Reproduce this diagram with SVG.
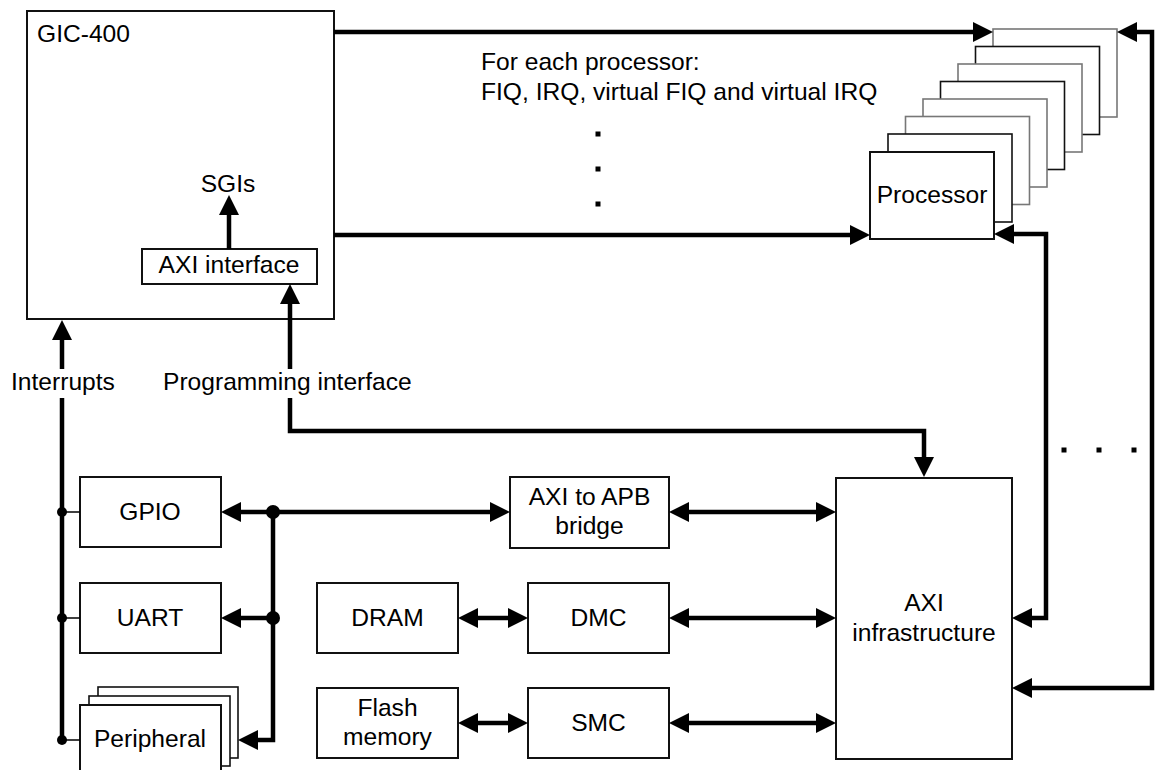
<svg xmlns="http://www.w3.org/2000/svg" width="1172" height="770" viewBox="0 0 1172 770">
<style>
text{font-family:"Liberation Sans",Arial,sans-serif;font-size:24.6px;fill:#000}
.c{text-anchor:middle}
.box{fill:#fff;stroke:#111;stroke-width:2}
.g{fill:#fff;stroke:#777;stroke-width:1.6}
.k{fill:#fff;stroke:#111;stroke-width:1.6}
.w{fill:none;stroke:#000;stroke-width:4.5}
.thin{fill:none;stroke:#000;stroke-width:1.6}
</style>
<defs>
<marker id="ah" viewBox="0 0 20 20" refX="10" refY="10" markerWidth="20" markerHeight="20" markerUnits="userSpaceOnUse" orient="auto-start-reverse">
<path d="M0,0 L20,10 L0,20 z" fill="#000"/>
</marker>
</defs>
<rect width="1172" height="770" fill="#fff"/>

<g id="gic400">
<rect class="box" x="27" y="11" width="307" height="308"/>
<text x="37" y="42">GIC-400</text>
</g>
<g id="axi-interface">
<rect class="box" x="142" y="249" width="175" height="35"/>
<text class="c" x="229" y="273">AXI interface</text>
</g>
<g id="sgis">
<text class="c" x="228" y="192">SGIs</text>
</g>

<g id="processors">
<rect class="g" x="993" y="29" width="124" height="88"/>
<rect class="k" x="975.5" y="46.5" width="124" height="88"/>
<rect class="g" x="958" y="64" width="124" height="88"/>
<rect class="k" x="940.5" y="81.5" width="124" height="88"/>
<rect class="g" x="923" y="99" width="124" height="88"/>
<rect class="g" x="905.5" y="116.5" width="124" height="88"/>
<rect class="k" x="888" y="134" width="124" height="88"/>
<rect class="box" x="870" y="152" width="124" height="87"/>
<text class="c" x="932" y="203">Processor</text>
</g>

<g id="labels">
<text x="481" y="70">For each processor:</text>
<text x="481" y="100">FIQ, IRQ, virtual FIQ and virtual IRQ</text>
<rect x="595.5" y="131.5" width="5" height="5" fill="#000"/>
<rect x="595.5" y="166.5" width="5" height="5" fill="#000"/>
<rect x="595.5" y="201.5" width="5" height="5" fill="#000"/>
<rect x="1061.5" y="447.5" width="5" height="5" fill="#000"/>
<rect x="1096.5" y="447.5" width="5" height="5" fill="#000"/>
<rect x="1131.5" y="447.5" width="5" height="5" fill="#000"/>
</g>

<g id="gpio">
<rect class="box" x="80" y="477" width="141" height="70"/>
<text class="c" x="150" y="520">GPIO</text>
</g>
<g id="uart">
<rect class="box" x="80" y="583" width="141" height="70"/>
<text class="c" x="150" y="626">UART</text>
</g>
<g id="peripheral">
<rect class="k" x="98" y="687" width="140" height="71"/>
<rect class="k" x="89" y="696" width="141" height="70"/>
<rect class="box" x="80" y="705" width="141" height="75"/>
<text class="c" x="150" y="747">Peripheral</text>
</g>
<g id="bridge">
<rect class="box" x="510" y="477" width="159" height="71"/>
<text class="c" x="589.5" y="505">AXI to APB</text>
<text class="c" x="589.5" y="534">bridge</text>
</g>
<g id="dram">
<rect class="box" x="317" y="583" width="141" height="70"/>
<text class="c" x="387.5" y="626">DRAM</text>
</g>
<g id="dmc">
<rect class="box" x="528" y="583" width="141" height="70"/>
<text class="c" x="598.5" y="626">DMC</text>
</g>
<g id="flash">
<rect class="box" x="317" y="688" width="141" height="70"/>
<text class="c" x="387.5" y="716">Flash</text>
<text class="c" x="387.5" y="745">memory</text>
</g>
<g id="smc">
<rect class="box" x="528" y="688" width="141" height="70"/>
<text class="c" x="598.5" y="731">SMC</text>
</g>
<g id="axi-infra">
<rect class="box" x="836" y="478" width="176" height="281"/>
<text class="c" x="924" y="611">AXI</text>
<text class="c" x="924" y="641">infrastructure</text>
</g>

<g id="connectors">
<path class="w" d="M334,32 H983" marker-end="url(#ah)"/>
<path class="w" d="M1022,688 H1152 V32 H1127" marker-start="url(#ah)" marker-end="url(#ah)"/>
<path class="w" d="M1004,234 H1046 V618 H1022" marker-start="url(#ah)" marker-end="url(#ah)"/>
<path class="w" d="M334,235 H860" marker-end="url(#ah)"/>
<path class="w" d="M229,249 V205" marker-end="url(#ah)"/>
<path class="w" d="M924,467 V431 H290 V294" marker-start="url(#ah)" marker-end="url(#ah)"/>
<path class="w" d="M62,740 V330" marker-end="url(#ah)"/>
<path class="w" d="M273,512 V740 H248" marker-end="url(#ah)"/>
<path class="w" d="M273,512 H231" marker-end="url(#ah)"/>
<path class="w" d="M273,618 H231" marker-end="url(#ah)"/>
<path class="w" d="M273,512 H500" marker-end="url(#ah)"/>
<path class="w" d="M679,512 H826" marker-start="url(#ah)" marker-end="url(#ah)"/>
<path class="w" d="M679,618 H826" marker-start="url(#ah)" marker-end="url(#ah)"/>
<path class="w" d="M679,723 H826" marker-start="url(#ah)" marker-end="url(#ah)"/>
<path class="w" d="M468,618 H518" marker-start="url(#ah)" marker-end="url(#ah)"/>
<path class="w" d="M468,723 H518" marker-start="url(#ah)" marker-end="url(#ah)"/>
<path class="thin" d="M62,512 H80 M62,618 H80 M62,740 H80"/>
<circle cx="62" cy="512" r="5" fill="#000"/>
<circle cx="62" cy="618" r="5" fill="#000"/>
<circle cx="62" cy="740" r="5" fill="#000"/>
<circle cx="273" cy="512" r="7" fill="#000"/>
<circle cx="273" cy="618" r="7" fill="#000"/>
<rect x="8" y="369" width="110" height="29" fill="#fff"/>
<text x="11" y="390">Interrupts</text>
<rect x="160" y="369" width="256" height="29" fill="#fff"/>
<text x="163" y="390">Programming interface</text>
</g>
</svg>
